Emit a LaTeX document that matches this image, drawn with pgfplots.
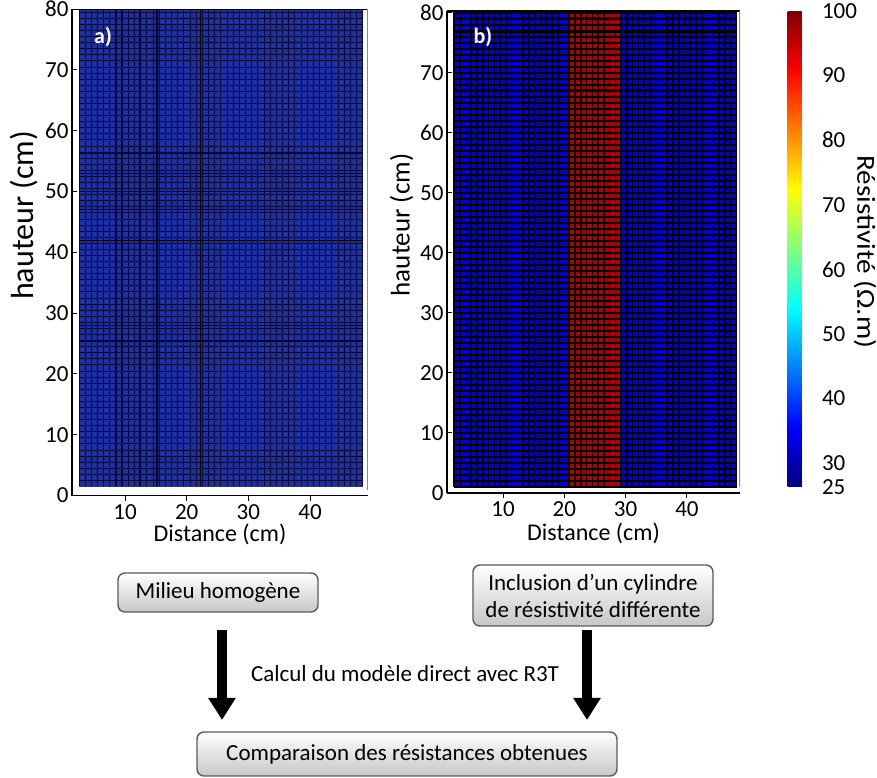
\documentclass[border=0pt]{standalone}
\usepackage{pgfplots}
\pgfplotsset{compat=1.18}
\usepackage{fontspec}
\setmainfont{Carlito}
\usetikzlibrary{arrows.meta,shadings}
\newcommand\fs[1]{\fontsize{#1}{#1}\selectfont}
\definecolor{meshA}{RGB}{30,48,160}
\definecolor{blueB}{RGB}{0,0,215}
\definecolor{redB}{RGB}{175,0,0}
\definecolor{boxline}{RGB}{90,90,90}
\pgfplotsset{
  outer/.style={scale only axis, axis x line*=bottom, axis y line*=left,
    axis line style={black, line width=1.3pt},
    xtick={10,20,30,40}, ytick={0,10,...,80},
    xtick align=outside, ytick align=inside, major tick length=5pt, tick style={black, line width=1pt},
    /pgf/number format/assume math mode=true,
    tick label style={font=\fs{23}},
    xlabel={Distance (cm)}, ylabel={hauteur (cm)},
  },
  inner/.style={scale only axis, axis on top,
    axis line style={draw=none}, tick style={draw=none},
    xticklabels={}, yticklabels={}, extra x tick labels={}, extra y tick labels={},
    grid=major},
}
\begin{document}
\begin{tikzpicture}[x=1pt,y=1pt]
\useasboundingbox (0pt,0pt) rectangle (877pt,778pt);

% ---------- panel a : mesh ----------
\begin{axis}[inner, at={(79pt,291.5pt)}, anchor=south west, width=284pt, height=477.3pt,
  xmin=2.55, xmax=48.6, ymin=1.5, ymax=80,
  xtick={2.55,3.55,...,48.6}, ytick={1.5,2.5,...,80},
  grid style={black!85!blue, line width=0.9pt, opacity=0.8},
  extra x ticks={5.5,8.4,9.4,12.3,15.2,22.2}, extra y ticks={25.3,28,42,47,50,53,56.2},
  extra tick style={grid style={black, line width=1.1pt, opacity=0.9}}]
\addplot[fill=meshA, draw=none] coordinates {(2.55,80) (48.6,80)} \closedcycle;
\end{axis}

% ---------- panel a : frame ----------
\begin{axis}[outer, at={(72pt,282.4pt)}, anchor=south west, width=296pt, height=486.4pt,
  xmin=1.4, xmax=49.4, ymin=0, ymax=80,
  xlabel style={font=\fs{24}, yshift=2pt},
  ylabel style={font=\fs{32}, at={(ticklabel cs:0.576)}}]
\addplot[draw=none] coordinates {(10,10)};
\draw[black, line width=1.3pt] (rel axis cs:0,1) -- (rel axis cs:1,1);
\draw[black!45, line width=1.5pt] (rel axis cs:1,0.012) -- (rel axis cs:1,1);
\end{axis}
\node[text=white, font=\fs{22}\bfseries] at (103pt,741pt) {a)};

% ---------- panel b : mesh ----------
\begin{axis}[inner, at={(454pt,291pt)}, anchor=south west, width=283.2pt, height=476pt,
  xmin=2.0, xmax=48.2, ymin=1.0, ymax=80.3,
  xtick={2.0,2.94,...,48.2}, ytick={1,2,...,80},
  grid style={black, line width=1.6pt},
  extra y ticks={67.2,71,74,75,76.8,78,79.2}, extra y tick labels={},
  extra tick style={grid style={black, line width=2pt}}]
\addplot[fill=blueB, draw=none] coordinates {(2.0,80.3) (48.2,80.3)} \closedcycle;
\addplot[fill=redB, draw=none] coordinates {(20.8,80.3) (29.26,80.3)} \closedcycle;
\end{axis}

% ---------- panel b : frame ----------
\begin{axis}[outer, at={(447pt,285pt)}, anchor=south west, width=293pt, height=482pt,
  xmin=0.86, xmax=48.66, ymin=0, ymax=80.3,
  xlabel style={font=\fs{24}, yshift=1pt},
  ylabel style={font=\fs{27}, at={(ticklabel cs:0.556)}}]
\addplot[draw=none] coordinates {(10,10)};
\draw[black, line width=1.3pt] (rel axis cs:0,1) -- (rel axis cs:1,1);
\draw[black!45, line width=1.5pt] (rel axis cs:1,0.012) -- (rel axis cs:1,1);
\end{axis}
\node[text=white, font=\fs{22}\bfseries] at (483pt,741pt) {b)};

% ---------- colorbar ----------
\begin{axis}[hide axis, scale only axis, at={(779pt,291pt)}, anchor=south west,
  width=31pt, height=476pt, xmin=0, xmax=1, ymin=0, ymax=1,
  colormap/jet, colorbar, point meta min=26.3, point meta max=100,
  colorbar style={at={(parent axis.south west)}, anchor=south west,
    scale only axis, width=31pt, height=476pt,
    axis line style={draw=none},
    ytick={30,40,...,100}, yticklabel pos=right,
    major tick length=0pt,
    extra y ticks={26.3}, extra y tick labels={25},
    /pgf/number format/assume math mode=true,
    yticklabel style={font=\fs{23}},
    ylabel={Résistivité (Ω.m)},
    ylabel style={font=\fs{26}, rotate=180, xscale=1.12, at={(axis description cs:2.5,0.494)}, anchor=center}}]
\addplot[draw=none] coordinates {(0,0) (1,1)};
\end{axis}

% ---------- flow chart ----------
\tikzset{box/.style={draw=boxline, line width=1.4pt, rounded corners=7pt,
  top color=white, bottom color=black!22, font=\fs{23}, inner sep=0pt}}
\node[box, minimum width=200pt, minimum height=39pt] at (218pt,185.5pt) {Milieu homogène};
\node[box, minimum width=240pt, minimum height=61pt, align=center] at (593pt,182.5pt)
  {Inclusion d’un cylindre\\[4pt]de résistivité différente};
\node[box, minimum width=420pt, minimum height=44pt] at (407pt,24pt) {Comparaison des résistances obtenues};
\draw[line width=10pt, -{Triangle[width=26pt,length=22pt]}] (222pt,148pt) -- (222pt,58pt);
\draw[line width=10pt, -{Triangle[width=26pt,length=22pt]}] (587pt,148pt) -- (587pt,58pt);
\node[font=\fs{23}] at (405pt,104pt) {Calcul du modèle direct avec R3T};
\end{tikzpicture}
\end{document}
